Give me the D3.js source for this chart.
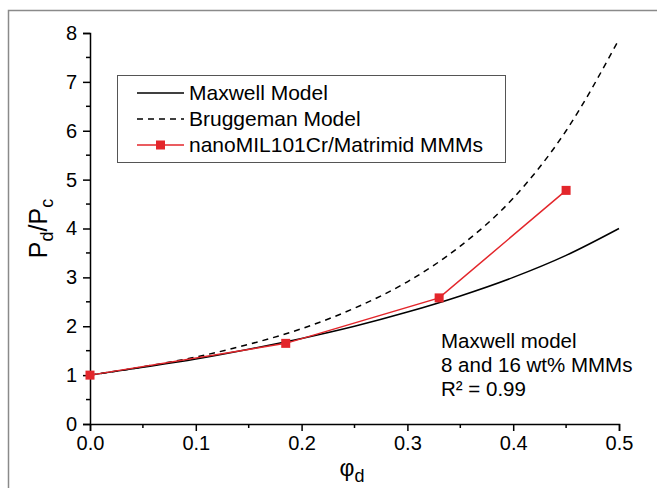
<!DOCTYPE html>
<html>
<head>
<meta charset="utf-8">
<script src="https://cdn.jsdelivr.net/npm/d3@7"></script>
<style>
  body { margin: 0; background: #fff; }
  text { font-family: "Liberation Sans", Arial, sans-serif; fill: #000; }
</style>
</head>
<body>
<svg id="chart" width="657" height="488"></svg>
<script>
// model curves
const phi_model = [0, 0.05, 0.1, 0.15, 0.2, 0.25, 0.3, 0.35, 0.4, 0.45, 0.5]
const maxwell_vals = [1, 1.16, 1.33, 1.53, 1.75, 2.0, 2.29, 2.62, 3.0, 3.45, 4.0]
const bruggeman_vals = [1, 1.17, 1.37, 1.63, 1.95, 2.37, 2.91, 3.64, 4.62, 6.0, 7.87]

// experimental MMM points
const phi_exp = [0, 0.185, 0.33, 0.45]
const exp_vals = [1.0, 1.65, 2.58, 4.78]

const x_ticks = [0, 0.1, 0.2, 0.3, 0.4, 0.5]
const y_ticks = [0, 1, 2, 3, 4, 5, 6, 7, 8]
const legend_labels = ["Maxwell Model", "Bruggeman Model", "nanoMIL101Cr/Matrimid MMMs"]
const note_lines = ["Maxwell model", "8 and 16 wt% MMMs", "R\u00b2 = 0.99"]

const red = "#e3262b"

const svg = d3.select("#chart")
const plot_left = 90, plot_right = 619, plot_top = 33, plot_bottom = 424

// outer frame (runs off the right / bottom edge)
svg.append("rect")
	.attr("x", 8.5).attr("y", 10.5)
	.attr("width", 700).attr("height", 600)
	.attr("fill", "none").attr("stroke", "#8a8a8a").attr("stroke-width", 1.5)

const x = d3.scaleLinear().domain([0, 0.5]).range([plot_left, plot_right])
const y = d3.scaleLinear().domain([0, 8]).range([plot_bottom, plot_top])

// axes: major ticks plus half-step minor ticks
const xAxis = svg.append("g").attr("transform", `translate(0,${plot_bottom})`)
xAxis.call(d3.axisBottom(x).tickValues(x_ticks).tickFormat(d3.format(".1f")).tickSize(7).tickPadding(5))
xAxis.selectAll(".minor").data(d3.range(0.05, 0.5, 0.1)).enter().append("line")
	.attr("x1", d => x(d)).attr("x2", d => x(d)).attr("y1", 0).attr("y2", 4)
	.attr("stroke", "#000").attr("stroke-width", 1.5)

const yAxis = svg.append("g").attr("transform", `translate(${plot_left},0)`)
yAxis.call(d3.axisLeft(y).tickValues(y_ticks).tickSize(7).tickPadding(6))
yAxis.selectAll(".minor").data(d3.range(0.5, 8, 1)).enter().append("line")
	.attr("y1", d => y(d)).attr("y2", d => y(d)).attr("x1", 0).attr("x2", -4)
	.attr("stroke", "#000").attr("stroke-width", 1.5)

svg.selectAll(".domain").attr("stroke", "#000").attr("stroke-width", 1.5)
svg.selectAll(".tick line").attr("stroke", "#000").attr("stroke-width", 1.5)
svg.selectAll(".tick text").style("font-size", "20px").attr("fill", "#000")

// axis titles
svg.append("text")
	.attr("transform", `translate(47,${(plot_top + plot_bottom) / 2}) rotate(-90)`)
	.attr("text-anchor", "middle")
	.style("font-size", "25px")
	.html('P<tspan dy="6" font-size="18px">d</tspan><tspan dy="-6">/P</tspan><tspan dy="6" font-size="18px">c</tspan>')

svg.append("text")
	.attr("x", 352).attr("y", 476)
	.attr("text-anchor", "middle")
	.style("font-size", "23px")
	.html('\u03c6<tspan dy="6" font-size="18px">d</tspan>')

// curves
const line = d3.line().x(d => x(d[0])).y(d => y(d[1])).curve(d3.curveMonotoneX)

svg.append("path")
	.datum(d3.zip(phi_model, bruggeman_vals))
	.attr("d", line)
	.attr("fill", "none").attr("stroke", "#000").attr("stroke-width", 1.5)
	.attr("stroke-dasharray", "6,5")

svg.append("path")
	.datum(d3.zip(phi_model, maxwell_vals))
	.attr("d", line)
	.attr("fill", "none").attr("stroke", "#000").attr("stroke-width", 1.5)

const exp_pts = d3.zip(phi_exp, exp_vals)
svg.append("path")
	.datum(exp_pts)
	.attr("d", d3.line().x(d => x(d[0])).y(d => y(d[1])))
	.attr("fill", "none").attr("stroke", red).attr("stroke-width", 1.5)

svg.selectAll("rect.pt").data(exp_pts).enter().append("rect")
	.classed("pt", true)
	.attr("x", d => x(d[0]) - 4.5).attr("y", d => y(d[1]) - 4.5)
	.attr("width", 9).attr("height", 9)
	.attr("fill", red)

// legend
const lg = svg.append("g").classed("legend", true)
lg.append("rect")
	.attr("x", 117.5).attr("y", 75.5).attr("width", 388).attr("height", 87)
	.attr("fill", "#fff").attr("stroke", "#555").attr("stroke-width", 1)

const legend_y = [93, 119, 145]
const legend_dash = [null, "6,5", null]
const legend_col = ["#000", "#000", red]
legend_labels.forEach((lab, i) => {
	lg.append("line")
		.attr("x1", 137).attr("x2", 184)
		.attr("y1", legend_y[i]).attr("y2", legend_y[i])
		.attr("stroke", legend_col[i]).attr("stroke-width", 1.5)
		.attr("stroke-dasharray", legend_dash[i])
	if (i == 2) {
		lg.append("rect")
			.attr("x", 156).attr("y", legend_y[i] - 4.5)
			.attr("width", 9).attr("height", 9).attr("fill", red)
	}
	lg.append("text")
		.attr("x", 189).attr("y", legend_y[i] + 7)
		.style("font-size", "21px")
		.text(lab)
})

// annotation
note_lines.forEach((t, i) => {
	svg.append("text")
		.attr("x", 441).attr("y", 348 + i * 24)
		.style("font-size", "20.5px")
		.text(t)
})
</script>
</body>
</html>
